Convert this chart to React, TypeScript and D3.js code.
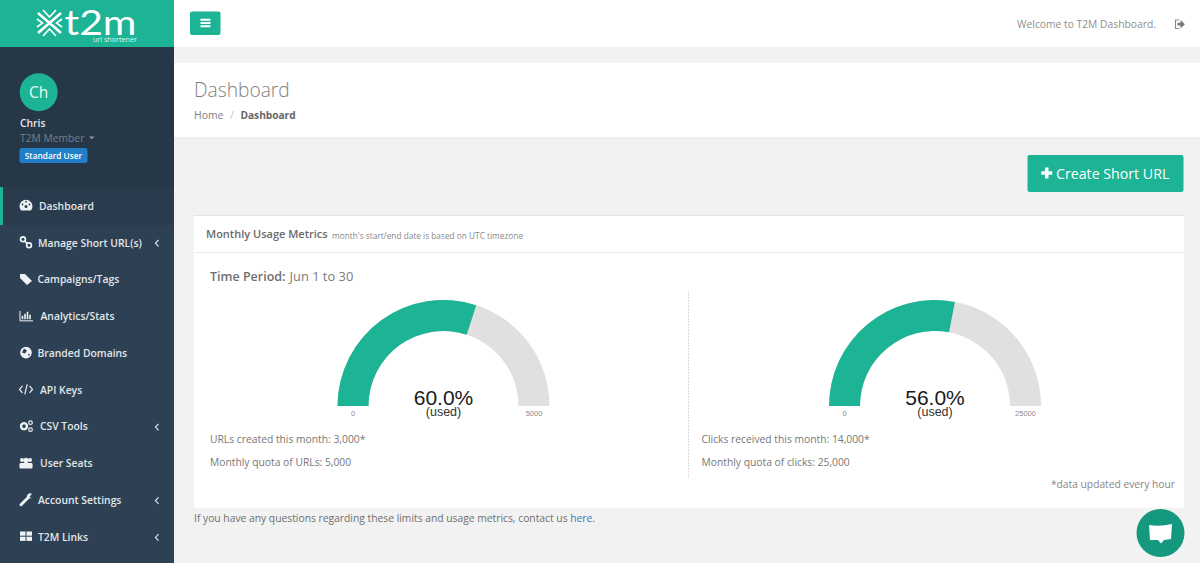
import { useEffect, useRef } from 'react';
import * as d3 from 'd3';

const FONT = '"Open Sans", sans-serif';
const GREEN = '#1CB494';

// gauge values
const gaugeUsed = [3000, 14000];
const gaugeMax = [5000, 25000];
const gaugePercent = ['60.0%', '56.0%'];
const gaugeCentre = [443.5, 935];
const gaugeLines = [
  ['URLs created this month: 3,000*', 'Monthly quota of URLs: 5,000'],
  ['Clicks received this month: 14,000*', 'Monthly quota of clicks: 25,000'],
];
const gaugeTextX = [210, 701.5];

const navLabels = [
  'Dashboard',
  'Manage Short URL(s)',
  'Campaigns/Tags',
  'Analytics/Stats',
  'Branded Domains',
  'API Keys',
  'CSV Tools',
  'User Seats',
  'Account Settings',
  'T2M Links',
];
const navTextX = [39, 38, 37.5, 40.5, 37.5, 40, 40, 40, 38, 38];
const navHasChevron = [false, true, false, false, false, false, true, false, true, true];

function drawIcon(g: d3.Selection<SVGGElement, unknown, null, undefined>, i: number) {
  const c = '#eef2f5';
  if (i === 0) {
    // gauge icon
    g.append('path').attr('d', 'M-5 5 A6.5 6.5 0 1 1 5 5 Z').attr('fill', c);
    g.append('circle').attr('cx', 0).attr('cy', 1).attr('r', 1.5).attr('fill', '#293B4C');
    g.append('circle').attr('cx', -3.5).attr('cy', -1).attr('r', 0.9).attr('fill', '#293B4C');
    g.append('circle').attr('cx', 3.5).attr('cy', -1).attr('r', 0.9).attr('fill', '#293B4C');
    g.append('circle').attr('cx', 0).attr('cy', -3.8).attr('r', 0.9).attr('fill', '#293B4C');
  } else if (i === 1) {
    g.append('circle').attr('cx', -3).attr('cy', -3).attr('r', 2.4).attr('fill', 'none').attr('stroke', c).attr('stroke-width', 1.7);
    g.append('circle').attr('cx', 3).attr('cy', 3).attr('r', 2.4).attr('fill', 'none').attr('stroke', c).attr('stroke-width', 1.7);
    g.append('line').attr('x1', -1).attr('y1', -1).attr('x2', 1).attr('y2', 1).attr('stroke', c).attr('stroke-width', 1.7);
  } else if (i === 2) {
    g.append('path').attr('d', 'M-6 -5 L-1 -5 L6 2 L1 6 L-6 -1 Z').attr('fill', c);
  } else if (i === 3) {
    g.append('path').attr('d', 'M-6 -5 V5 H7').attr('fill', 'none').attr('stroke', c).attr('stroke-width', 1);
    g.append('path').attr('d', 'M-3.5 3.5 V0 M-1 3.5 V-2 M1.5 3.5 V-4 M4 3.5 V-1').attr('stroke', c).attr('stroke-width', 1.6);
  } else if (i === 4) {
    g.append('circle').attr('r', 5.8).attr('fill', c);
    g.append('path').attr('d', 'M-2 -4 L1 -2 L-1 1 L-4 0 Z M2 2 L4 1 L3 4 Z').attr('fill', '#2E4053');
  } else if (i === 5) {
    g.append('path').attr('d', 'M-3.5 -3.5 L-6.5 0 L-3.5 3.5 M3.5 -3.5 L6.5 0 L3.5 3.5 M1.2 -5 L-1.2 5').attr('fill', 'none').attr('stroke', c).attr('stroke-width', 1.2);
  } else if (i === 6) {
    g.append('circle').attr('cx', -2).attr('cy', 0).attr('r', 3).attr('fill', 'none').attr('stroke', c).attr('stroke-width', 2.4);
    g.append('circle').attr('cx', 4.5).attr('cy', -3.5).attr('r', 1.8).attr('fill', 'none').attr('stroke', c).attr('stroke-width', 1.2);
    g.append('circle').attr('cx', 4.5).attr('cy', 3.5).attr('r', 1.8).attr('fill', 'none').attr('stroke', c).attr('stroke-width', 1.2);
  } else if (i === 7) {
    g.append('circle').attr('cx', -4).attr('cy', -3).attr('r', 2).attr('fill', c);
    g.append('circle').attr('cx', 4).attr('cy', -3).attr('r', 2).attr('fill', c);
    g.append('circle').attr('cx', 0).attr('cy', -2.5).attr('r', 2.6).attr('fill', c);
    g.append('rect').attr('x', -6.5).attr('y', 0).attr('width', 13).attr('height', 5.5).attr('rx', 1.2).attr('fill', c);
  } else if (i === 8) {
    g.append('path').attr('d', 'M-5 5 L1.5 -1.5').attr('stroke', c).attr('stroke-width', 3).attr('stroke-linecap', 'round');
    g.append('path').attr('d', 'M1 -2 A3.4 3.4 0 0 1 6 -6 L3.5 -3 L5 -1.5 L6.5 -3.5 A3.4 3.4 0 0 1 1 -2 Z').attr('fill', c);
  } else {
    g.append('rect').attr('x', -6).attr('y', -5).attr('width', 5.5).attr('height', 4.2).attr('fill', c);
    g.append('rect').attr('x', 0.5).attr('y', -5).attr('width', 5.5).attr('height', 4.2).attr('fill', c);
    g.append('rect').attr('x', -6).attr('y', 0.2).attr('width', 5.5).attr('height', 4.2).attr('fill', c);
    g.append('rect').attr('x', 0.5).attr('y', 0.2).attr('width', 5.5).attr('height', 4.2).attr('fill', c);
  }
}

export default function App() {
  const svgRef = useRef<SVGSVGElement>(null);

  useEffect(() => {
    if (!svgRef.current) return;
    const svg = d3.select(svgRef.current);
    svg.selectAll('*').remove();
    svg.attr('font-family', FONT);

    const label = (
      x: number,
      y: number,
      text: string,
      size: number,
      fill: string,
      weight = 400,
      anchor = 'start',
    ) =>
      svg
        .append('text')
        .attr('x', x)
        .attr('y', y)
        .attr('font-size', size)
        .attr('font-weight', weight)
        .attr('fill', fill)
        .attr('text-anchor', anchor)
        .text(text);

    // Page background and panels
    svg.append('rect').attr('width', 1200).attr('height', 563).attr('fill', '#F2F2F2');
    svg.append('rect').attr('x', 174).attr('width', 1026).attr('height', 47).attr('fill', '#fff');
    svg.append('rect').attr('x', 174).attr('y', 63).attr('width', 1026).attr('height', 75).attr('fill', '#fff');
    svg.append('rect').attr('x', 174).attr('y', 137.5).attr('width', 1026).attr('height', 1).attr('fill', '#e6e6e6');

    // Sidebar
    svg.append('rect').attr('width', 174).attr('height', 563).attr('fill', '#2E4053');
    svg.append('rect').attr('y', 47).attr('width', 174).attr('height', 140).attr('fill', '#263747');
    svg.append('rect').attr('width', 174).attr('height', 47).attr('fill', GREEN);

    // Logo
    const logo = svg.append('g').attr('stroke', '#fff').attr('fill', 'none');
    logo.append('path').attr('d', 'M38 13 L61 33 M61 13 L38 33').attr('stroke-width', 2.6);
    logo.append('path').attr('d', 'M43 10 L49.5 17 L56 10 M43 36 L49.5 29 L56 36').attr('stroke-width', 1.6);
    logo.append('path').attr('d', 'M37 19 L42.5 23 L37 27 M62 19 L56.5 23 L62 27').attr('stroke-width', 1.6);
    label(64.5, 34.5, 't2m', 35, '#fff', 400)
      .attr('font-family', 'Lato, sans-serif')
      .attr('textLength', 72)
      .attr('lengthAdjust', 'spacingAndGlyphs');
    label(137, 41.5, 'url shortener', 7.2, '#dff5ef', 400, 'end');

    // User block
    svg.append('circle').attr('cx', 38.7).attr('cy', 92.2).attr('r', 19).attr('fill', GREEN);
    label(38.7, 97.5, 'Ch', 15.5, '#eafaf6', 400, 'middle');
    label(20, 127, 'Chris', 10.3, '#E4E9EC', 600);
    label(20, 141.5, 'T2M Member', 10.3, '#74818E');
    svg.append('path').attr('d', 'M89 136.5 h5.5 l-2.75 2.8 Z').attr('fill', '#8d99a5');
    svg.append('rect').attr('x', 19.5).attr('y', 148).attr('width', 68).attr('height', 15).attr('rx', 2).attr('fill', '#1F7FC9');
    label(53.5, 158.8, 'Standard User', 8.3, '#fff', 600, 'middle');

    // Nav
    const navY = d3.scalePoint<string>().domain(navLabels).range([206, 537]);
    svg.append('rect').attr('y', 187).attr('width', 174).attr('height', 38).attr('fill', '#293B4C');
    svg.append('rect').attr('y', 187).attr('width', 3).attr('height', 38).attr('fill', GREEN);
    navLabels.forEach((name, i) => {
      const y = navY(name) as number;
      label(navTextX[i], y + 3.8, name, 10.35, '#E2E7EA', 600);
      const icon = svg.append('g').attr('transform', `translate(26,${y - 0.5})`);
      drawIcon(icon, i);
      if (navHasChevron[i]) {
        svg
          .append('path')
          .attr('d', `M158.5 ${y - 2.8} L155.5 ${y + 0.4} L158.5 ${y + 3.6}`)
          .attr('fill', 'none')
          .attr('stroke', '#dfe4e8')
          .attr('stroke-width', 1.2);
      }
    });

    // Top bar
    svg.append('rect').attr('x', 190).attr('y', 11.5).attr('width', 30.5).attr('height', 23.5).attr('rx', 2).attr('fill', GREEN);
    [-3.2, 0, 3.2].forEach((d) =>
      svg.append('rect').attr('x', 200.5).attr('y', 22 + d).attr('width', 10).attr('height', 2).attr('rx', 0.5).attr('fill', '#fff'),
    );
    label(1017, 28, 'Welcome to T2M Dashboard.', 10.3, '#8f8f8f');
    svg.append('path').attr('d', 'M1179 20 h-3.5 v8.5 h3.5').attr('fill', 'none').attr('stroke', '#8a8a8a').attr('stroke-width', 1.1);
    svg.append('path').attr('d', 'M1177.5 22.8 h3 v-2.8 l4.4 4.2 l-4.4 4.2 v-2.8 h-3 Z').attr('fill', '#777');

    // Page heading
    label(194, 96.5, 'Dashboard', 19.2, '#808080', 300);
    label(194, 118.5, 'Home', 10.4, '#808080');
    label(230, 118.5, '/', 10.4, '#c4c4c4');
    label(240.5, 118.5, 'Dashboard', 10.15, '#666', 700);

    // Create button
    svg.append('rect').attr('x', 1027.5).attr('y', 155).attr('width', 156).attr('height', 37).attr('rx', 2).attr('fill', GREEN);
    svg.append('path').attr('d', 'M1045 167.5 h3.5 v3.7 h3.7 v3.5 h-3.7 v3.7 h-3.5 v-3.7 h-3.7 v-3.5 h3.7 Z').attr('fill', '#fff');
    label(1056, 179, 'Create Short URL', 14.2, '#fff');

    // Metrics panel
    svg.append('rect').attr('x', 194).attr('y', 215.5).attr('width', 990).attr('height', 292.5).attr('fill', '#fff');
    svg.append('rect').attr('x', 194).attr('y', 215).attr('width', 990).attr('height', 1).attr('fill', '#e4e4e4');
    svg.append('rect').attr('x', 194).attr('y', 252).attr('width', 990).attr('height', 1).attr('fill', '#ececec');
    label(206, 238, 'Monthly Usage Metrics', 11, '#6a6a6a', 600);
    label(332, 239, "month's start/end date is based on UTC timezone", 8.3, '#8a8a8a');
    const period = label(210, 281, 'Time Period:', 12.5, '#6f6f6f', 600);
    period.append('tspan').attr('font-weight', 400).attr('font-size', 12.9).attr('fill', '#7a7a7a').attr('dx', 4).text('Jun 1 to 30');

    svg
      .append('line')
      .attr('x1', 688.5)
      .attr('x2', 688.5)
      .attr('y1', 291)
      .attr('y2', 478)
      .attr('stroke', '#cfcfcf')
      .attr('stroke-dasharray', '1.5,1.5');

    // Gauges
    const outerR = 106;
    const innerR = 75;
    const baseY = 406;
    const arc = d3.arc().innerRadius(innerR).outerRadius(outerR);
    gaugeUsed.forEach((used, i) => {
      const angle = d3.scaleLinear().domain([0, gaugeMax[i]]).range([-Math.PI / 2, Math.PI / 2]);
      const cx = gaugeCentre[i];
      const g = svg.append('g').attr('transform', `translate(${cx},${baseY})`);
      g.append('path')
        .attr('d', arc({ startAngle: angle(0), endAngle: angle(gaugeMax[i]) } as any) as string)
        .attr('fill', '#E0E0E0');
      g.append('path')
        .attr('d', arc({ startAngle: angle(0), endAngle: angle(used) } as any) as string)
        .attr('fill', GREEN);

      const gt = (dx: number, y: number, text: string, size: number, fill: string) =>
        g
          .append('text')
          .attr('x', dx)
          .attr('y', y - baseY)
          .attr('text-anchor', 'middle')
          .attr('font-family', 'Arial, "Liberation Sans", sans-serif')
          .attr('font-size', size)
          .attr('fill', fill)
          .text(text);
      gt(0, 404.5, gaugePercent[i], 21, '#1a1a1a');
      gt(0, 415.5, '(used)', 12.5, '#333');
      gt(-(outerR + innerR) / 2, 416, '0', 7.5, '#8c8c8c');
      gt((outerR + innerR) / 2, 416, String(gaugeMax[i]), 7.5, '#8c8c8c');

      label(gaugeTextX[i], 443, gaugeLines[i][0], 10.3, '#777');
      label(gaugeTextX[i], 466, gaugeLines[i][1], 10.3, '#777');
    });

    label(1175, 488, '*data updated every hour', 10.25, '#888', 400, 'end');

    // Footer note
    const note = label(194, 522, 'If you have any questions regarding these limits and usage metrics, contact us ', 10.3, '#6f6f6f');
    note.append('tspan').attr('fill', '#337AB7').text('here');
    note.append('tspan').text('.');

    // Chat bubble
    svg.append('circle').attr('cx', 1160.5).attr('cy', 533).attr('r', 24).attr('fill', '#14997F');
    svg
      .append('path')
      .attr('d', 'M1149 525 Q1160 527 1172 524 L1171 539 L1164 540 L1161 543.5 L1158 540 L1150 540 Z')
      .attr('fill', '#fff');
  }, []);

  return <svg ref={svgRef} width={1200} height={563} style={{ position: 'absolute', left: 0, top: 0 }} />;
}
